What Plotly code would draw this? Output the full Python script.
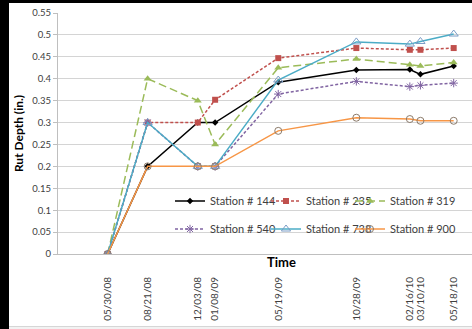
import base64
import struct
import zlib

import plotly.graph_objects as go

dates = ["2008-05-30", "2008-08-21", "2008-12-03", "2009-01-08", "2009-05-19",
         "2009-10-28", "2010-02-16", "2010-03-10", "2010-05-18"]
date_labels = ["05/30/08", "08/21/08", "12/03/08", "01/08/09", "05/19/09",
               "10/28/09", "02/16/10", "03/10/10", "05/18/10"]

st144 = [0, 0.20, 0.30, 0.30, 0.392, 0.420, 0.421, 0.410, 0.429]
st235 = [0, 0.30, 0.30, 0.352, 0.447, 0.470, 0.466, 0.466, 0.470]
st319 = [0, 0.40, 0.35, 0.25, 0.425, 0.445, 0.432, 0.429, 0.437]
st540 = [0, 0.30, 0.20, 0.20, 0.365, 0.394, 0.382, 0.385, 0.390]
st738 = [0, 0.30, 0.20, 0.20, 0.397, 0.484, 0.479, 0.485, 0.502]
st900 = [0, 0.20, 0.20, 0.20, 0.281, 0.311, 0.308, 0.304, 0.304]

y_ticks = [0, 0.05, 0.1, 0.15, 0.2, 0.25, 0.3, 0.35, 0.4, 0.45, 0.5, 0.55]
y_ticktext = ["0", "0.05", "0.1", "0.15", "0.2", "0.25", "0.3", "0.35", "0.4", "0.45", "0.5", "0.55"]

FONT = "Lato, Liberation Sans, sans-serif"
TXT = "#404040"

fig = go.Figure()

fig.add_trace(go.Scatter(x=dates, y=st144, name="Station # 144", mode="lines+markers",
                         line=dict(color="#000000", width=1.5),
                         marker=dict(symbol="diamond", size=5, color="#000000"),
                         legend="legend"))
fig.add_trace(go.Scatter(x=dates, y=st235, name="Station # 235", mode="lines+markers",
                         line=dict(color="#c0504d", width=1.5, dash="3px,2px"),
                         marker=dict(symbol="square", size=6, color="#c0504d"),
                         legend="legend2"))
fig.add_trace(go.Scatter(x=dates, y=st319, name="Station # 319", mode="lines+markers",
                         line=dict(color="#9bbb59", width=1.5, dash="8px,4px"),
                         marker=dict(symbol="triangle-up", size=7, color="#9bbb59"),
                         legend="legend3"))
fig.add_trace(go.Scatter(x=dates, y=st540, name="Station # 540", mode="lines+markers",
                         line=dict(color="#8064a2", width=1.5, dash="3px,2px"),
                         marker=dict(symbol="asterisk-open", size=7,
                                     line=dict(color="#9a84c0", width=1)),
                         legend="legend4"))
fig.add_trace(go.Scatter(x=dates, y=st738, name="Station # 738", mode="lines+markers",
                         line=dict(color="#4bacc6", width=1.5),
                         marker=dict(symbol="triangle-up-open", size=8,
                                     color="#7a9cc6", line=dict(color="#7a9cc6", width=1)),
                         legend="legend5"))
fig.add_trace(go.Scatter(x=dates, y=st900, name="Station # 900", mode="lines+markers",
                         line=dict(color="#f79646", width=1.5),
                         marker=dict(symbol="circle-open", size=7,
                                     color="#8c7b6b", line=dict(color="#8c7b6b", width=1)),
                         legend="legend6"))

W, H = 472, 329
L, R, T, B = 58, 0, 13, 75
pw, ph = W - L - R, H - T - B


def px_x(px):
    return (px - L) / pw


def px_y(py):
    return (H - B - py) / ph


legend_common = dict(orientation="h", bgcolor="rgba(0,0,0,0)", borderwidth=0,
                     font=dict(family=FONT, size=11, color=TXT),
                     yanchor="middle")

legend_y = [201, 229]
legends = {}
for i in range(6):
    key = "legend" if i == 0 else f"legend{i + 1}"
    col = i % 3
    if col < 2:
        pos = dict(x=px_x([170, 266][col]), xanchor="left")
    else:
        pos = dict(x=px_x(461), xanchor="right")
    legends[key] = dict(y=px_y(legend_y[i // 3]), **pos, **legend_common)


def solid_png(rgb):
    # 1x1 solid-colour PNG as a data URI (used as a stretched frame band)
    def chunk(tag, data):
        c = struct.pack(">I", len(data)) + tag + data
        return c + struct.pack(">I", zlib.crc32(tag + data) & 0xffffffff)
    raw = b"\x00" + bytes(rgb)
    png = (b"\x89PNG\r\n\x1a\n"
           + chunk(b"IHDR", struct.pack(">IIBBBBB", 1, 1, 8, 2, 0, 0, 0))
           + chunk(b"IDAT", zlib.compress(raw))
           + chunk(b"IEND", b""))
    return "data:image/png;base64," + base64.b64encode(png).decode()


def band_img(x0, x1, y0, y1, rgb):
    return dict(source=solid_png(rgb), xref="paper", yref="paper",
                x=px_x(x0), y=px_y(y0), sizex=(x1 - x0) / pw, sizey=(y1 - y0) / ph,
                xanchor="left", yanchor="top", sizing="stretch", layer="above", opacity=1)


def band(x0, x1, y0, y1, color):
    return dict(type="rect", xref="paper", yref="paper",
                x0=px_x(x0 + 0.5), x1=px_x(x1 - 0.5),
                y0=px_y(y1 - 0.5), y1=px_y(y0 + 0.5),
                fillcolor=color, line=dict(width=1, color=color), layer="above")


fig.update_layout(
    width=W, height=H,
    margin=dict(l=L, r=R, t=T, b=B, autoexpand=False),
    paper_bgcolor="#ffffff", plot_bgcolor="#ffffff",
    font=dict(family=FONT, color=TXT),
    **legends,
    xaxis=dict(type="date", range=["2008-02-17", "2010-06-25"],
               tickmode="array", tickvals=dates, ticktext=date_labels,
               tickangle=-90, ticks="", showgrid=False, zeroline=False,
               showline=True, linecolor="#bfbfbf", linewidth=1,
               ticklabelstandoff=18,
               tickfont=dict(family=FONT, size=10, color=TXT)),
    yaxis=dict(range=[0, 0.55], tickmode="array", tickvals=y_ticks, ticktext=y_ticktext,
               showgrid=True, gridcolor="#d4d4d4", gridwidth=1, zeroline=False,
               showline=True, linecolor="#bfbfbf", linewidth=1,
               ticks="outside", ticklen=4, tickcolor="#bfbfbf",
               tickfont=dict(family=FONT, size=9.5, color=TXT),
               title=dict(text="<b>Rut Depth (in.)</b>", standoff=6,
                          font=dict(family=FONT, size=12, color="#000000"))),
    showlegend=True,
    annotations=[
        dict(text="<b>Time</b>", xref="paper", yref="paper",
             x=px_x(281), y=px_y(262), xanchor="center", yanchor="middle",
             showarrow=False, font=dict(family=FONT, size=13, color="#000000")),
    ],
    shapes=[
        band(0, 9, 0, H, "#000000"),
        band(0, W, 0, 3, "#000000"),
        band(9, W, 326, 327, "#d6d6d6"),
        band(9, W, 327, H, "#f2f2f2"),
    ],
    images=[
        band_img(0, 9, 0, H, (0, 0, 0)),
        band_img(0, W, 0, 3, (0, 0, 0)),
        band_img(9, W, 326, 327, (214, 214, 214)),
        band_img(9, W, 327, H, (242, 242, 242)),
    ],
)

fig.write_html("out.html", config={"displayModeBar": False},
               post_script="document.body.style.margin='0';")
